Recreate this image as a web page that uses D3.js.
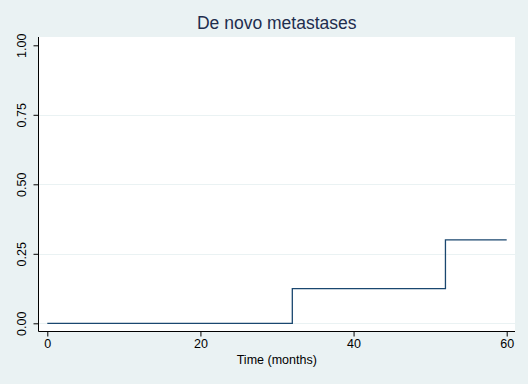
<!DOCTYPE html>
<html><head><meta charset="utf-8">
<script src="https://cdn.jsdelivr.net/npm/d3@7"></script>
<style>body{margin:0;background:#EAF2F3;}svg{display:block;}</style>
</head><body>
<svg id="c" width="528" height="384"></svg>
<script>
const title = "De novo metastases";
const xLabel = "Time (months)";
const stepTimes = [0, 32, 52, 60];
const stepValues = [0, 0.125, 0.3, 0.3];
const xTicks = [0, 20, 40, 60];
const yTicks = [0, 0.25, 0.5, 0.75, 1];
const yGrid = [0, 0.25, 0.5, 0.75];

const svg = d3.select("#c");
const W = 528, H = 384;
svg.append("rect").attr("width", W).attr("height", H).attr("fill", "#EAF2F3");

const plot = {left: 38.5, right: 515, top: 37, bottom: 331.5};
svg.append("rect").attr("x", plot.left).attr("y", plot.top)
  .attr("width", plot.right - plot.left).attr("height", plot.bottom - plot.top)
  .attr("fill", "#ffffff");

const x = d3.scaleLinear().domain([0, 60]).range([47.3, 506.7]);
const y = d3.scaleLinear().domain([0, 1]).range([323.3, 45.3]);

// gridlines
svg.append("g").selectAll("line").data(yGrid).join("line")
  .attr("x1", plot.left).attr("x2", plot.right)
  .attr("y1", d => Math.round(y(d)) + 0.5).attr("y2", d => Math.round(y(d)) + 0.5)
  .attr("stroke", "#EAF2F3").attr("stroke-width", 1);

// step line
const pts = stepTimes.map((t, i) => [t, stepValues[i]]);
const line = d3.line().x(d => x(d[0])).y(d => y(d[1])).curve(d3.curveStepAfter);
svg.append("path").datum(pts).attr("d", line)
  .attr("fill", "none").attr("stroke", "#1A476F").attr("stroke-width", 1.3);

// axes
const fontFam = "Arial, 'Liberation Sans', Helvetica, sans-serif";
const xAxis = d3.axisBottom(x).tickValues(xTicks).tickSize(5).tickPadding(3).tickFormat(d3.format("d"));
const gx = svg.append("g").attr("transform", `translate(0,${plot.bottom})`).call(xAxis);
gx.select(".domain").attr("d", `M${plot.left},0H${plot.right}`).attr("stroke", "#000");
gx.selectAll(".tick line").attr("stroke", "#000");
gx.selectAll("text").attr("font-family", fontFam).attr("font-size", 12.5).attr("fill", "#000");

const yAxis = d3.axisLeft(y).tickValues(yTicks).tickSize(5).tickFormat(d3.format(".2f"));
const gy = svg.append("g").attr("transform", `translate(${plot.left},0)`).call(yAxis);
gy.select(".domain").attr("d", `M0,${plot.top}V${plot.bottom}`).attr("stroke", "#000");
gy.selectAll(".tick line").attr("stroke", "#000");
gy.selectAll("text")
  .attr("font-family", fontFam).attr("font-size", 12.5).attr("fill", "#000")
  .attr("x", null).attr("dy", null)
  .attr("text-anchor", "middle")
  .attr("transform", "translate(-16.5,0) rotate(-90)")
  .attr("dy", "0.35em");

// x label
svg.append("text").attr("x", (plot.left + plot.right) / 2).attr("y", 364)
  .attr("text-anchor", "middle").attr("font-family", fontFam).attr("font-size", 12.5)
  .attr("fill", "#000").text(xLabel);

// title
svg.append("text").attr("x", (plot.left + plot.right) / 2).attr("y", 29)
  .attr("text-anchor", "middle").attr("font-family", fontFam).attr("font-size", 17.5)
  .attr("fill", "#1E2D4E").text(title);
</script>
</body></html>
